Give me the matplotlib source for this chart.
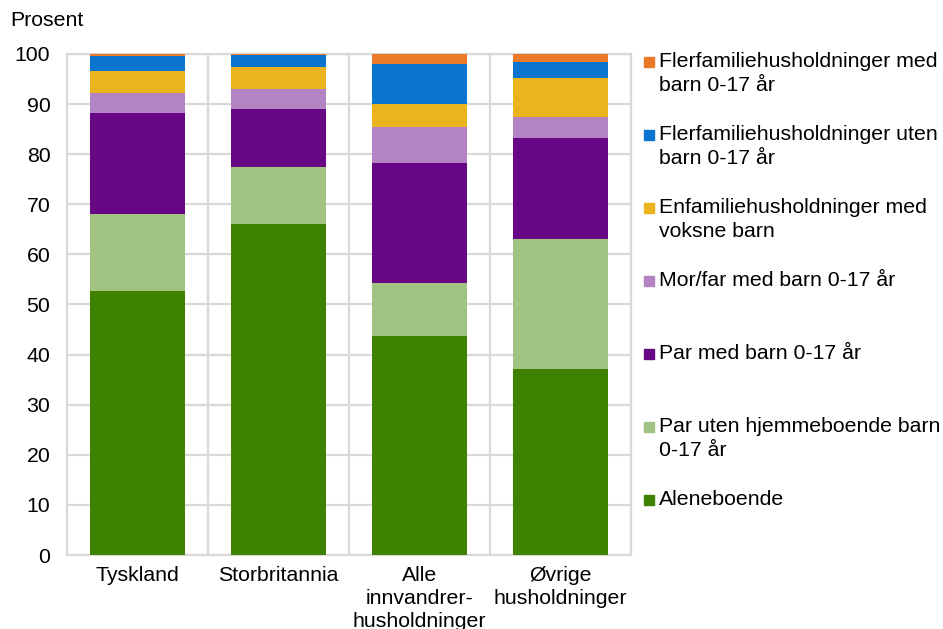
import matplotlib
matplotlib.use("Agg")
from matplotlib import pyplot as plt
from matplotlib.patches import Rectangle
import numpy as np

plt.rcParams['font.family'] = ['Liberation Sans', 'DejaVu Sans']

categories = ["Tyskland", "Storbritannia", "Alle\ninnvandrer-\nhusholdninger", "Øvrige\nhusholdninger"]

series_names = [
    "Aleneboende",
    "Par uten hjemmeboende barn\n0-17 år",
    "Par med barn 0-17 år",
    "Mor/far med barn 0-17 år",
    "Enfamiliehusholdninger med\nvoksne barn",
    "Flerfamiliehusholdninger uten\nbarn 0-17 år",
    "Flerfamiliehusholdninger med\nbarn 0-17 år",
]
aleneboende = [52.6, 66.1, 43.8, 37.1]
par_uten = [15.5, 11.3, 10.4, 26.0]
par_med = [20.1, 11.6, 24.0, 20.1]
mor_far = [4.1, 4.1, 7.2, 4.2]
enfam_voksne = [4.4, 4.2, 4.6, 7.9]
flerfam_uten = [2.8, 2.4, 8.0, 3.0]
flerfam_med = [0.5, 0.3, 2.0, 1.7]

series = [aleneboende, par_uten, par_med, mor_far, enfam_voksne, flerfam_uten, flerfam_med]
colors = ["#3F8200", "#A0C382", "#670786", "#B383C3", "#EBB31E", "#0A75CF", "#EC7928"]

fs = 15.3
grid_col = "#D9D9D9"

fig = plt.figure(figsize=(9.43, 6.29), dpi=100)
ax = fig.add_axes([0.071, 0.1176, 0.598, 0.7966])

x = np.arange(len(categories))
bottom = np.zeros(len(categories))
for vals, col in zip(series, colors):
    ax.bar(x, vals, bottom=bottom, width=0.67, color=col, zorder=3)
    bottom += np.array(vals)

ax.set_xlim(-0.5, len(categories) - 0.5)
ax.set_ylim(0, 100)
ax.set_yticks(np.arange(0, 101, 10))
ax.set_xticks(x)
ax.set_xticklabels(categories, fontsize=fs, linespacing=1.27, va="top")
ax.set_xticks(np.arange(0.5, len(categories) - 0.5, 1), minor=True)
ax.tick_params(axis="y", labelsize=fs, length=0, pad=12)
ax.tick_params(axis="x", which="both", length=0, pad=8)

ax.grid(axis="y", color=grid_col, linewidth=1.6, zorder=0)
ax.grid(axis="x", which="minor", color=grid_col, linewidth=1.6, zorder=0)
for s in ax.spines.values():
    s.set_color(grid_col)
    s.set_linewidth(1.6)

fig.text(0.011, 0.968, "Prosent", fontsize=fs, va="center", ha="left")

# legend, drawn by hand so the marker sits on the first text line
y0 = 1 - 62 / 629
step = 73 / 629
for i, (name, col) in enumerate(zip(series_names[::-1], colors[::-1])):
    yc = y0 - i * step
    fig.patches.append(Rectangle((644 / 943, yc - 5 / 629), 10 / 943, 10 / 629,
                                 transform=fig.transFigure, color=col))
    fig.text(659 / 943, yc + 10 / 629, name, fontsize=fs, va="top", ha="left",
             linespacing=1.33)

fig.savefig("out.png", dpi=100)
